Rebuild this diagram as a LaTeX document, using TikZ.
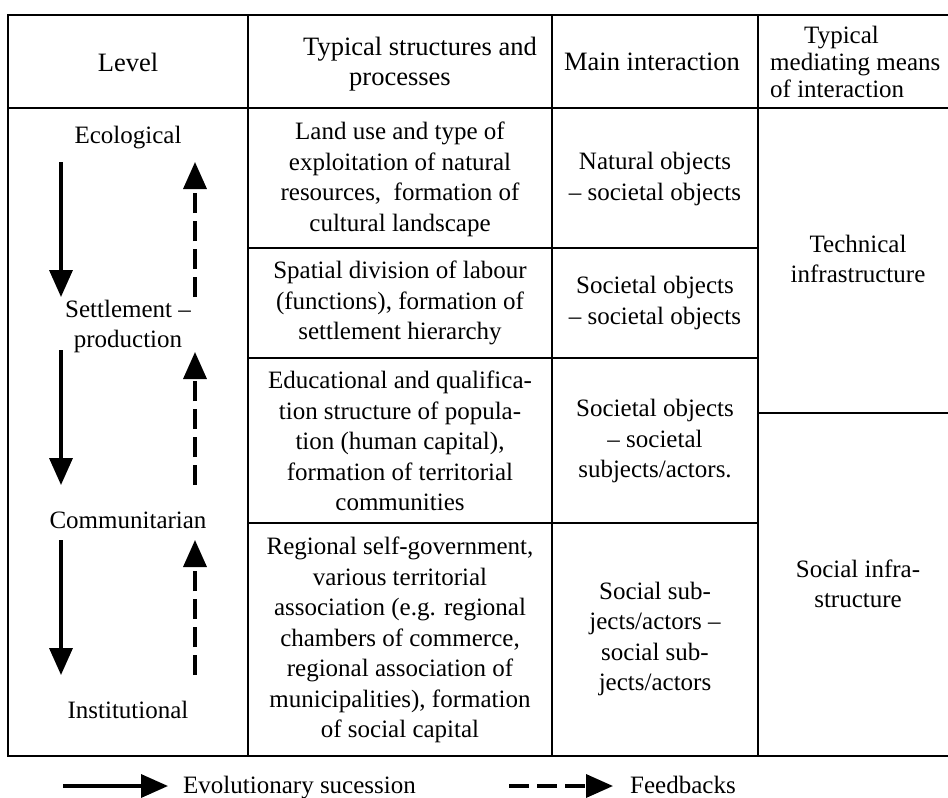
\documentclass[tikz,border=0pt]{standalone}
\usepackage{fontspec}
\setmainfont{Liberation Serif}
\usetikzlibrary{arrows.meta}
\begin{document}
\begin{tikzpicture}[x=1pt,y=-1pt,
  grid/.style={line width=2pt, line cap=rect},
  cell/.style={align=center, font=\fontsize{25}{30.5}\selectfont, inner sep=0pt},
  head/.style={align=center, font=\fontsize{26.5}{30}\selectfont, inner sep=0pt},
  evo/.style={line width=3.5pt, -{Triangle[length=27pt,width=23pt]}},
  fb/.style={line width=3.5pt, dash pattern=on 20pt off 8pt, -{Triangle[length=27pt,width=23pt]}},
]
\useasboundingbox (0,0) rectangle (948,798);
% table grid
\draw[grid] (8,15) -- (948,15);
\draw[grid] (8,108) -- (948,108);
\draw[grid] (248,248) -- (758,248);
\draw[grid] (248,358) -- (758,358);
\draw[grid] (758,413) -- (948,413);
\draw[grid] (248,523) -- (758,523);
\draw[grid] (8,756) -- (948,756);
\draw[grid] (8,15) -- (8,756);
\draw[grid] (248,15) -- (248,756);
\draw[grid] (552,15) -- (552,756);
\draw[grid] (758,15) -- (758,756);
% header
\node[head] (hlevel) at (128,62) {Level};
\node[head] (hstruct) at (400,64) {\hspace*{40pt}Typical structures and\\processes};
\node[head] (hmain) at (652,62) {Main interaction};
\node[head, align=left, anchor=west, font=\fontsize{25}{27}\selectfont] (hmed) at (770,62) {\hspace*{34pt}Typical\\mediating means\\of interaction};
% level column
\node[cell] (eco) at (128,138) {Ecological};
\node[cell] (sett) at (128,326.5) {Settlement –\\production};
\node[cell] (comm) at (128,520) {Communitarian};
\node[cell] (inst) at (128,710) {Institutional};
\coordinate (e1s) at (61,162); \coordinate (e1e) at (61,297);
\coordinate (f1s) at (195,297); \coordinate (f1e) at (195,162);
\coordinate (e2s) at (61,350); \coordinate (e2e) at (61,485);
\coordinate (f2s) at (195,485); \coordinate (f2e) at (195,352);
\coordinate (e3s) at (61,540); \coordinate (e3e) at (61,675);
\coordinate (f3s) at (195,675); \coordinate (f3e) at (195,540);
\draw[evo] (e1s) -- (e1e);
\draw[fb] (f1s) -- (f1e);
\draw[evo] (e2s) -- (e2e);
\draw[fb] (f2s) -- (f2e);
\draw[evo] (e3s) -- (e3e);
\draw[fb] (f3s) -- (f3e);
% structures column
\node[cell] (s1) at (400,179.5) {Land use and type of\\exploitation of natural\\resources,~ formation of\\cultural landscape};
\node[cell] (s2) at (400,303) {Spatial division of labour\\(functions), formation of\\settlement hierarchy};
\node[cell] (s3) at (400,441) {Educational and qualifica-\\tion structure of popula-\\tion (human capital),\\formation of territorial\\communities};
\node[cell] (s4) at (400,640) {Regional self-government,\\various territorial\\association (e.g. regional\\chambers of commerce,\\regional association of\\municipalities), formation\\of social capital};
% main interaction column
\node[cell] (m1) at (655,179) {Natural objects\\– societal objects};
\node[cell] (m2) at (655,303) {Societal objects\\– societal objects};
\node[cell] (m3) at (655,441) {Societal objects\\– societal\\subjects/actors.};
\node[cell] (m4) at (655,639) {Social sub-\\jects/actors –\\social sub-\\jects/actors};
% mediating column
\node[cell] (tech) at (858,259) {Technical\\infrastructure};
\node[cell] (soc) at (858,584) {Social infra-\\structure};
% legend
\coordinate (l1s) at (63,786); \coordinate (l1e) at (168,786);
\draw[evo] (l1s) -- (l1e);
\node[cell, anchor=base west] (l1t) at (183,793) {Evolutionary sucession};
\coordinate (l2s) at (509,786); \coordinate (l2e) at (613,786);
\draw[fb] (l2s) -- (l2e);
\node[cell, anchor=base west] (l2t) at (630,793) {Feedbacks};
\end{tikzpicture}
\end{document}
